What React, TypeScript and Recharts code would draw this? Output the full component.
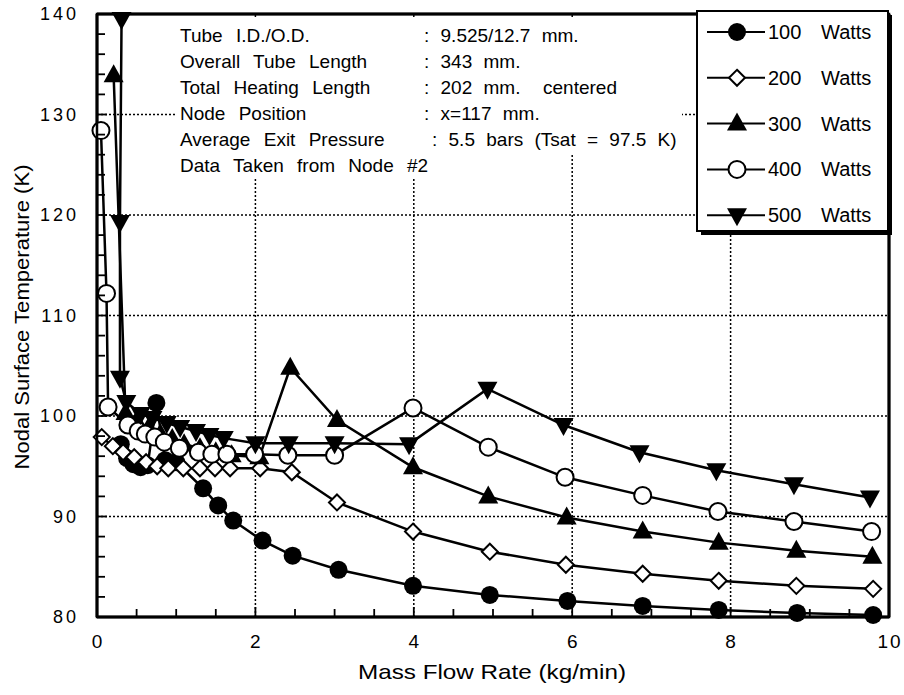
import React from 'react';
import { LineChart, Line, XAxis, YAxis, ReferenceLine } from 'recharts';

// mass flow (kg/min) and nodal temperature (K) per heater power
const flow100 = [0.30, 0.38, 0.46, 0.55, 0.64, 0.75, 0.86, 1.0, 1.34, 1.53, 1.72, 2.09, 2.47, 3.05, 3.99, 4.96, 5.94, 6.89, 7.85, 8.84, 9.8];
const temp100 = [97.2, 95.8, 95.2, 94.9, 95.1, 101.3, 95.6, 95.4, 92.8, 91.1, 89.6, 87.6, 86.1, 84.7, 83.1, 82.2, 81.6, 81.1, 80.7, 80.4, 80.2];

const flow200 = [0.06, 0.2, 0.33, 0.47, 0.62, 0.76, 0.9, 1.09, 1.3, 1.49, 1.68, 2.06, 2.46, 3.03, 3.99, 4.96, 5.92, 6.89, 7.85, 8.83, 9.8];
const temp200 = [97.9, 97.0, 96.4, 95.9, 95.4, 95.0, 94.8, 94.8, 94.8, 94.8, 94.8, 94.8, 94.4, 91.4, 88.5, 86.5, 85.2, 84.3, 83.6, 83.1, 82.8];

const flow300 = [0.21, 0.36, 0.5, 0.65, 0.8, 0.95, 1.1, 1.3, 1.5, 1.7, 2.05, 2.44, 3.03, 3.99, 4.94, 5.93, 6.89, 7.85, 8.83, 9.79];
const temp300 = [133.9, 100.3, 99.5, 98.8, 98.2, 97.7, 97.2, 96.8, 96.4, 96.1, 95.9, 104.8, 99.6, 94.9, 92.0, 89.9, 88.5, 87.4, 86.6, 86.0];

const flow400 = [0.05, 0.12, 0.14, 0.39, 0.52, 0.61, 0.73, 0.85, 1.04, 1.28, 1.45, 1.64, 1.99, 2.41, 3.0, 3.99, 4.94, 5.91, 6.89, 7.84, 8.8, 9.78];
const temp400 = [128.4, 112.2, 100.9, 99.1, 98.5, 98.2, 97.9, 97.4, 96.8, 96.4, 96.2, 96.2, 96.2, 96.1, 96.1, 100.8, 96.9, 93.9, 92.1, 90.5, 89.5, 88.5];

const flow500 = [0.31, 0.29, 0.29, 0.37, 0.55, 0.7, 0.88, 1.05, 1.25, 1.42, 1.6, 2.0, 2.42, 3.0, 3.94, 4.93, 5.89, 6.85, 7.82, 8.8, 9.76];
const temp500 = [139.5, 119.3, 103.8, 101.4, 100.2, 99.8, 99.3, 98.9, 98.5, 98.1, 97.8, 97.3, 97.3, 97.3, 97.2, 102.7, 99.1, 96.4, 94.6, 93.2, 91.9];

const xDomain = [0, 10];
const yDomain = [80, 140];
const xTicks = [0, 0.5, 1, 1.5, 2, 2.5, 3, 3.5, 4, 4.5, 5, 5.5, 6, 6.5, 7, 7.5, 8, 8.5, 9, 9.5, 10];
const xLabels = [0, 2, 4, 6, 8, 10];
const yTicks = [80, 82, 84, 86, 88, 90, 92, 94, 96, 98, 100, 102, 104, 106, 108, 110, 112, 114, 116, 118, 120, 122, 124, 126, 128, 130, 132, 134, 136, 138, 140];
const yLabels = [80, 90, 100, 110, 120, 130, 140];
const gridX = [2, 4, 6, 8];
const gridY = [90, 100, 110, 120, 130];

const legendPowers = ['100', '200', '300', '400', '500'];
const noteLeft = ['Tube I.D./O.D.', 'Overall Tube Length', 'Total Heating Length', 'Node Position', 'Average Exit Pressure', 'Data Taken from Node #2'];
const noteRight = [': 9.525/12.7 mm.', ': 343 mm.', ': 202 mm.  centered', ': x=117 mm.', ': 5.5 bars (Tsat = 97.5 K)', ''];

const toRows = (xs: number[], ys: number[]) => xs.map((x, i) => ({ x, y: ys[i] }));

const font = '"Liberation Sans", Arial, sans-serif';

type Kind = 'disc' | 'diamond' | 'up' | 'ring' | 'down';
const kinds: Kind[] = ['disc', 'diamond', 'up', 'ring', 'down'];

function Marker({ kind, cx, cy }: { kind: Kind; cx: number; cy: number }) {
  if (kind === 'disc') return <circle cx={cx} cy={cy} r={9} fill="#000" />;
  if (kind === 'ring') return <circle cx={cx} cy={cy} r={8.5} fill="#fff" stroke="#000" strokeWidth={2} />;
  if (kind === 'diamond') {
    const d = 8;
    return <polygon points={`${cx},${cy - d} ${cx + d},${cy} ${cx},${cy + d} ${cx - d},${cy}`} fill="#fff" stroke="#000" strokeWidth={2} />;
  }
  if (kind === 'up') return <polygon points={`${cx},${cy - 11} ${cx + 10},${cy + 7} ${cx - 10},${cy + 7}`} fill="#000" />;
  return <polygon points={`${cx},${cy + 11} ${cx + 10},${cy - 7} ${cx - 10},${cy - 7}`} fill="#000" />;
}

const dotFor = (kind: Kind) => (p: any) => (
  <Marker key={`${kind}-${p.index}`} kind={kind} cx={p.cx} cy={p.cy} />
);

const BottomTick = (p: any) => {
  const v = p.payload.value;
  const major = xLabels.includes(v);
  return (
    <g>
      <line x1={p.x} x2={p.x} y1={p.y} y2={p.y - (major ? 10 : 8)} stroke="#000" strokeWidth={1.8} />
      {major && (
        <text x={p.x + 1} y={p.y + 31} textAnchor="middle" fontFamily={font} fontSize={19} letterSpacing={2} fill="#000">
          {v}
        </text>
      )}
    </g>
  );
};

const TopTick = (p: any) => {
  const major = xLabels.includes(p.payload.value);
  return <line x1={p.x} x2={p.x} y1={p.y} y2={p.y + (major ? 10 : 8)} stroke="#000" strokeWidth={1.8} />;
};

const LeftTick = (p: any) => {
  const v = p.payload.value;
  const major = yLabels.includes(v);
  return (
    <g>
      <line x1={p.x} x2={p.x + (major ? 10 : 8)} y1={p.y} y2={p.y} stroke="#000" strokeWidth={1.8} />
      {major && (
        <text x={p.x - 18} y={p.y + 6} textAnchor="end" fontFamily={font} fontSize={18} letterSpacing={3} fill="#000">
          {v}
        </text>
      )}
    </g>
  );
};

const RightTick = (p: any) => {
  const major = yLabels.includes(p.payload.value);
  return <line x1={p.x} x2={p.x - (major ? 10 : 8)} y1={p.y} y2={p.y} stroke="#000" strokeWidth={1.8} />;
};

const series = [
  toRows(flow100, temp100),
  toRows(flow200, temp200),
  toRows(flow300, temp300),
  toRows(flow400, temp400),
  toRows(flow500, temp500),
];

export default function App() {
  return (
    <div style={{ position: 'absolute', left: 0, top: 0, width: 904, height: 695, background: '#fff' }}>
      <LineChart width={904} height={695} margin={{ top: 0, right: 0, left: 0, bottom: 0 }}>
        <XAxis
          xAxisId="b"
          dataKey="x"
          type="number"
          domain={xDomain}
          ticks={xTicks}
          interval={0}
          height={78}
          tickSize={0}
          tickMargin={0}
          tick={<BottomTick />}
          axisLine={{ stroke: '#000', strokeWidth: 3 }}
        />
        <XAxis
          xAxisId="t"
          orientation="top"
          type="number"
          domain={xDomain}
          ticks={xTicks}
          interval={0}
          height={14}
          tickSize={0}
          tickMargin={0}
          tick={<TopTick />}
          axisLine={{ stroke: '#000', strokeWidth: 3 }}
        />
        <YAxis
          yAxisId="l"
          type="number"
          domain={yDomain}
          ticks={yTicks}
          interval={0}
          width={97}
          tickSize={0}
          tickMargin={0}
          tick={<LeftTick />}
          axisLine={{ stroke: '#000', strokeWidth: 3 }}
        />
        <YAxis
          yAxisId="r"
          orientation="right"
          type="number"
          domain={yDomain}
          ticks={yTicks}
          interval={0}
          width={15}
          tickSize={0}
          tickMargin={0}
          tick={<RightTick />}
          axisLine={{ stroke: '#000', strokeWidth: 3 }}
        />
        {gridX.map((v) => (
          <ReferenceLine key={`gx${v}`} xAxisId="b" yAxisId="l" x={v} stroke="#000" strokeWidth={1.5} strokeDasharray="2 2" />
        ))}
        {gridY.map((v) => (
          <ReferenceLine key={`gy${v}`} xAxisId="b" yAxisId="l" y={v} stroke="#000" strokeWidth={1.5} strokeDasharray="2 2" />
        ))}
        {series.map((rows, i) => (
          <Line
            key={legendPowers[i]}
            xAxisId="b"
            yAxisId="l"
            data={rows}
            dataKey="y"
            stroke="#000"
            strokeWidth={2.5}
            dot={dotFor(kinds[i])}
            activeDot={false}
            isAnimationActive={false}
          />
        ))}
      </LineChart>

      <svg width={904} height={695} style={{ position: 'absolute', left: 0, top: 0, pointerEvents: 'none' }}>
        {/* plot frame */}
        <rect x={97} y={14} width={792} height={603} fill="none" stroke="#000" strokeWidth={2.5} />

        <text
          x={492}
          y={679}
          textAnchor="middle"
          fontFamily={font}
          fontSize={21}
          textLength={268}
          lengthAdjust="spacingAndGlyphs"
        >
          Mass Flow Rate (kg/min)
        </text>
        <text
          x={0}
          y={0}
          transform="translate(29,317) rotate(-90)"
          textAnchor="middle"
          fontFamily={font}
          fontSize={21}
          textLength={305}
          lengthAdjust="spacingAndGlyphs"
        >
          Nodal Surface Temperature (K)
        </text>

        <rect x={176} y={17} width={506} height={136} fill="#fff" />
        <rect x={176} y={153} width={284} height={26} fill="#fff" />
        {noteLeft.map((t, i) => (
          <text key={t} x={180} y={42 + i * 26} fontFamily={font} fontSize={19} wordSpacing={8}>
            {t}
          </text>
        ))}
        {noteRight.map((t, i) => (
          <text key={`n${i}`} x={i === 4 ? 432 : 424} y={42 + i * 26} fontFamily={font} fontSize={19} wordSpacing={6} style={{ whiteSpace: 'pre' }}>
            {t}
          </text>
        ))}

        <rect x={701} y={15} width={191} height={220} fill="#000" />
        <rect x={697} y={11} width={191} height={220} fill="#fff" stroke="#000" strokeWidth={2} />
        {legendPowers.map((n, i) => {
          const cy = 32 + i * 45.8;
          return (
            <g key={n}>
              <line x1={707} x2={765} y1={cy} y2={cy} stroke="#000" strokeWidth={2} />
              <Marker kind={kinds[i]} cx={737} cy={cy} />
              <text x={768} y={cy + 7} fontFamily={font} fontSize={20}>
                {n}
              </text>
              <text x={821} y={cy + 7} fontFamily={font} fontSize={20}>
                Watts
              </text>
            </g>
          );
        })}
      </svg>
    </div>
  );
}
